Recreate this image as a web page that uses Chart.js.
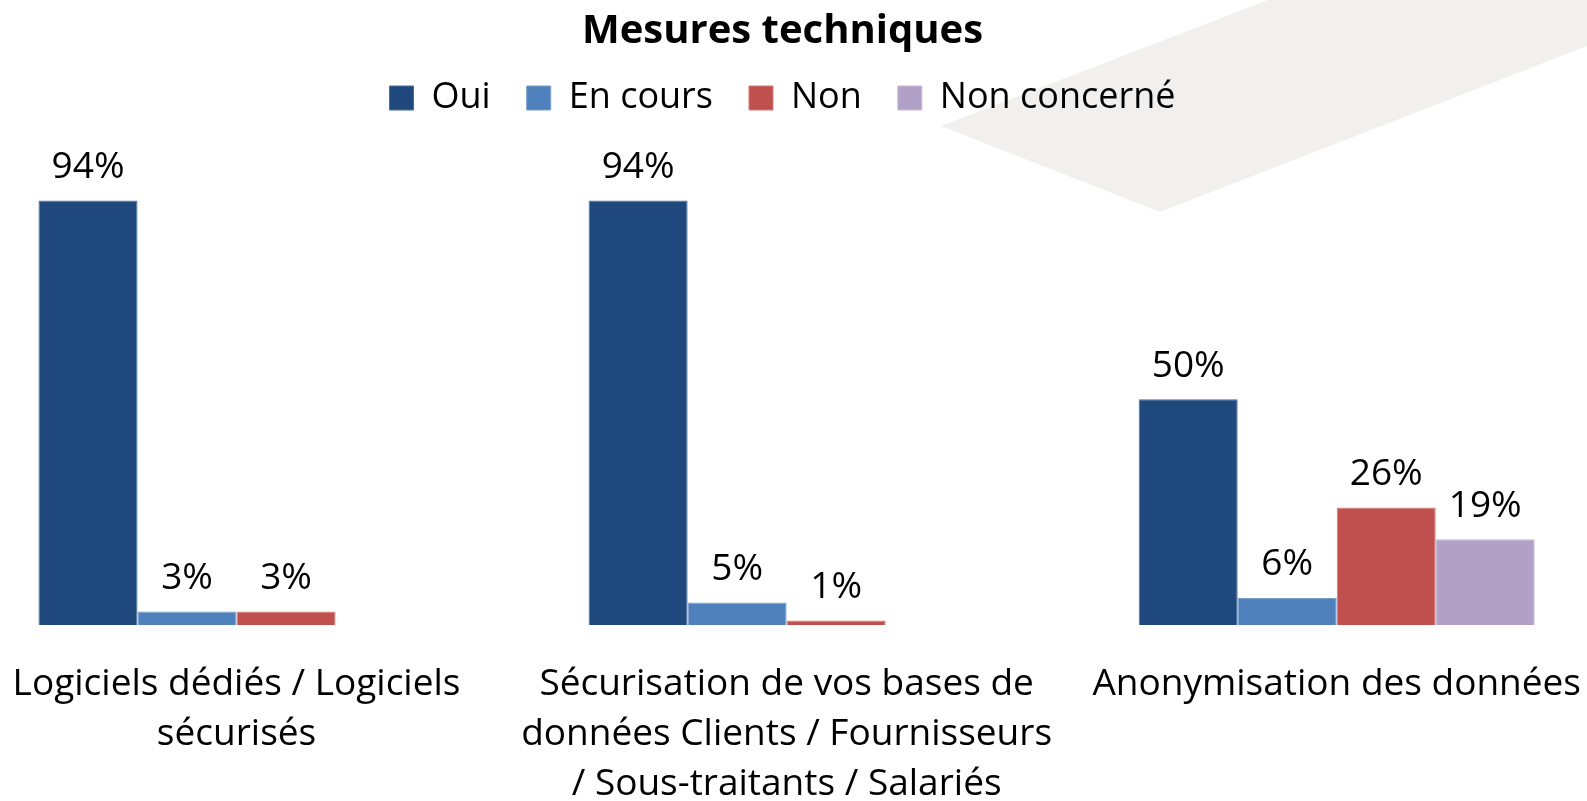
<!DOCTYPE html>
<html>
<head>
<meta charset="utf-8">
<script src="https://cdn.jsdelivr.net/npm/chart.js@4.4.1/dist/chart.umd.min.js"></script>
<style>
  html, body { margin: 0; padding: 0; background: #ffffff; }
  #wrap { position: relative; width: 1587px; height: 801px; }
</style>
</head>
<body>
<div id="wrap"><canvas id="c" width="1587" height="801"></canvas></div>
<script>
const categories = [
  ["Logiciels dédiés / Logiciels", "sécurisés"],
  ["Sécurisation de vos bases de", "données Clients / Fournisseurs", "/ Sous-traitants / Salariés"],
  ["Anonymisation des données"]
];
const seriesNames = ["Oui", "En cours", "Non", "Non concerné"];
const oui = [94, 94, 50];
const enCours = [3, 5, 6];
const non = [3, 1, 26];
const nonConcerne = [null, null, 19];
const seriesColors = ["#1F497D", "#4F81BD", "#C0504D", "#B2A1C7"];
const seriesBorders = ["#4a6c98", "#7a9fcc", "#d57b78", "#c7bad6"];

const FONT = "'Open Sans', Lato, 'DejaVu Sans', sans-serif";

const bgShape = {
  id: 'bgShape',
  beforeDraw(chart) {
    const ctx = chart.ctx;
    ctx.save();
    ctx.fillStyle = '#ffffff';
    ctx.fillRect(0, 0, chart.width, chart.height);
    ctx.fillStyle = '#F1F0EF';
    ctx.beginPath();
    ctx.moveTo(941, 126);
    ctx.lineTo(1268, 0);
    ctx.lineTo(1587, 0);
    ctx.lineTo(1587, 46);
    ctx.lineTo(1160, 212);
    ctx.closePath();
    ctx.fill();
    ctx.restore();
  }
};

const allSeries = [oui, enCours, non, nonConcerne];

const valueLabels = {
  id: 'valueLabels',
  afterDatasetsDraw(chart) {
    const ctx = chart.ctx;
    ctx.save();
    ctx.font = "37px " + FONT;
    ctx.fillStyle = '#000000';
    ctx.textAlign = 'center';
    ctx.textBaseline = 'middle';
    chart.data.datasets.forEach((ds, di) => {
      const meta = chart.getDatasetMeta(di);
      meta.data.forEach((el, i) => {
        const v = allSeries[di][i];
        if (v === null || v === undefined) return;
        ctx.fillText(v + '%', el.x, el.y - 33);
      });
    });
    ctx.restore();
  }
};

new Chart(document.getElementById('c'), {
  type: 'bar',
  data: {
    datasets: seriesNames.map((name, k) => ({
      label: name,
      data: allSeries[k].map((v, i) => ({ x: i, y: v })),
      backgroundColor: seriesColors[k],
      borderColor: seriesBorders[k],
      borderWidth: 1,
      categoryPercentage: 0.72,
      barPercentage: 1.0
    }))
  },
  options: {
    responsive: false,
    animation: false,
    devicePixelRatio: 1,
    layout: { padding: { left: 0, right: 22, top: 0, bottom: 0 } },
    plugins: {
      title: {
        display: true,
        text: 'Mesures techniques',
        color: '#000000',
        font: { family: FONT, size: 40, weight: 'bold', lineHeight: 0.6 },
        padding: { top: 20, bottom: 0 }
      },
      legend: {
        display: true,
        position: 'top',
        labels: {
          color: '#000000',
          font: { family: FONT, size: 36 },
          boxWidth: 24,
          boxHeight: 24,
          padding: 36
        }
      },
      tooltip: { enabled: false }
    },
    scales: {
      x: {
        type: 'linear',
        offset: false,
        min: -0.43,
        max: 2.415,
        grid: { display: false },
        border: { display: false },
        afterBuildTicks(scale) {
          scale.ticks = categories.map((c, i) => ({ value: i }));
        },
        ticks: {
          color: '#000000',
          font: { family: FONT, size: 37, lineHeight: 1.36 },
          padding: 26,
          maxRotation: 0,
          autoSkip: false,
          callback: (value) => categories[value]
        },
        afterFit(scale) {
          scale.height = 176;
          scale.paddingLeft = 0;
          scale.paddingRight = 0;
        }
      },
      y: {
        display: false,
        min: 0,
        max: 110.5
      }
    }
  },
  plugins: [bgShape, valueLabels]
});
</script>
</body>
</html>
